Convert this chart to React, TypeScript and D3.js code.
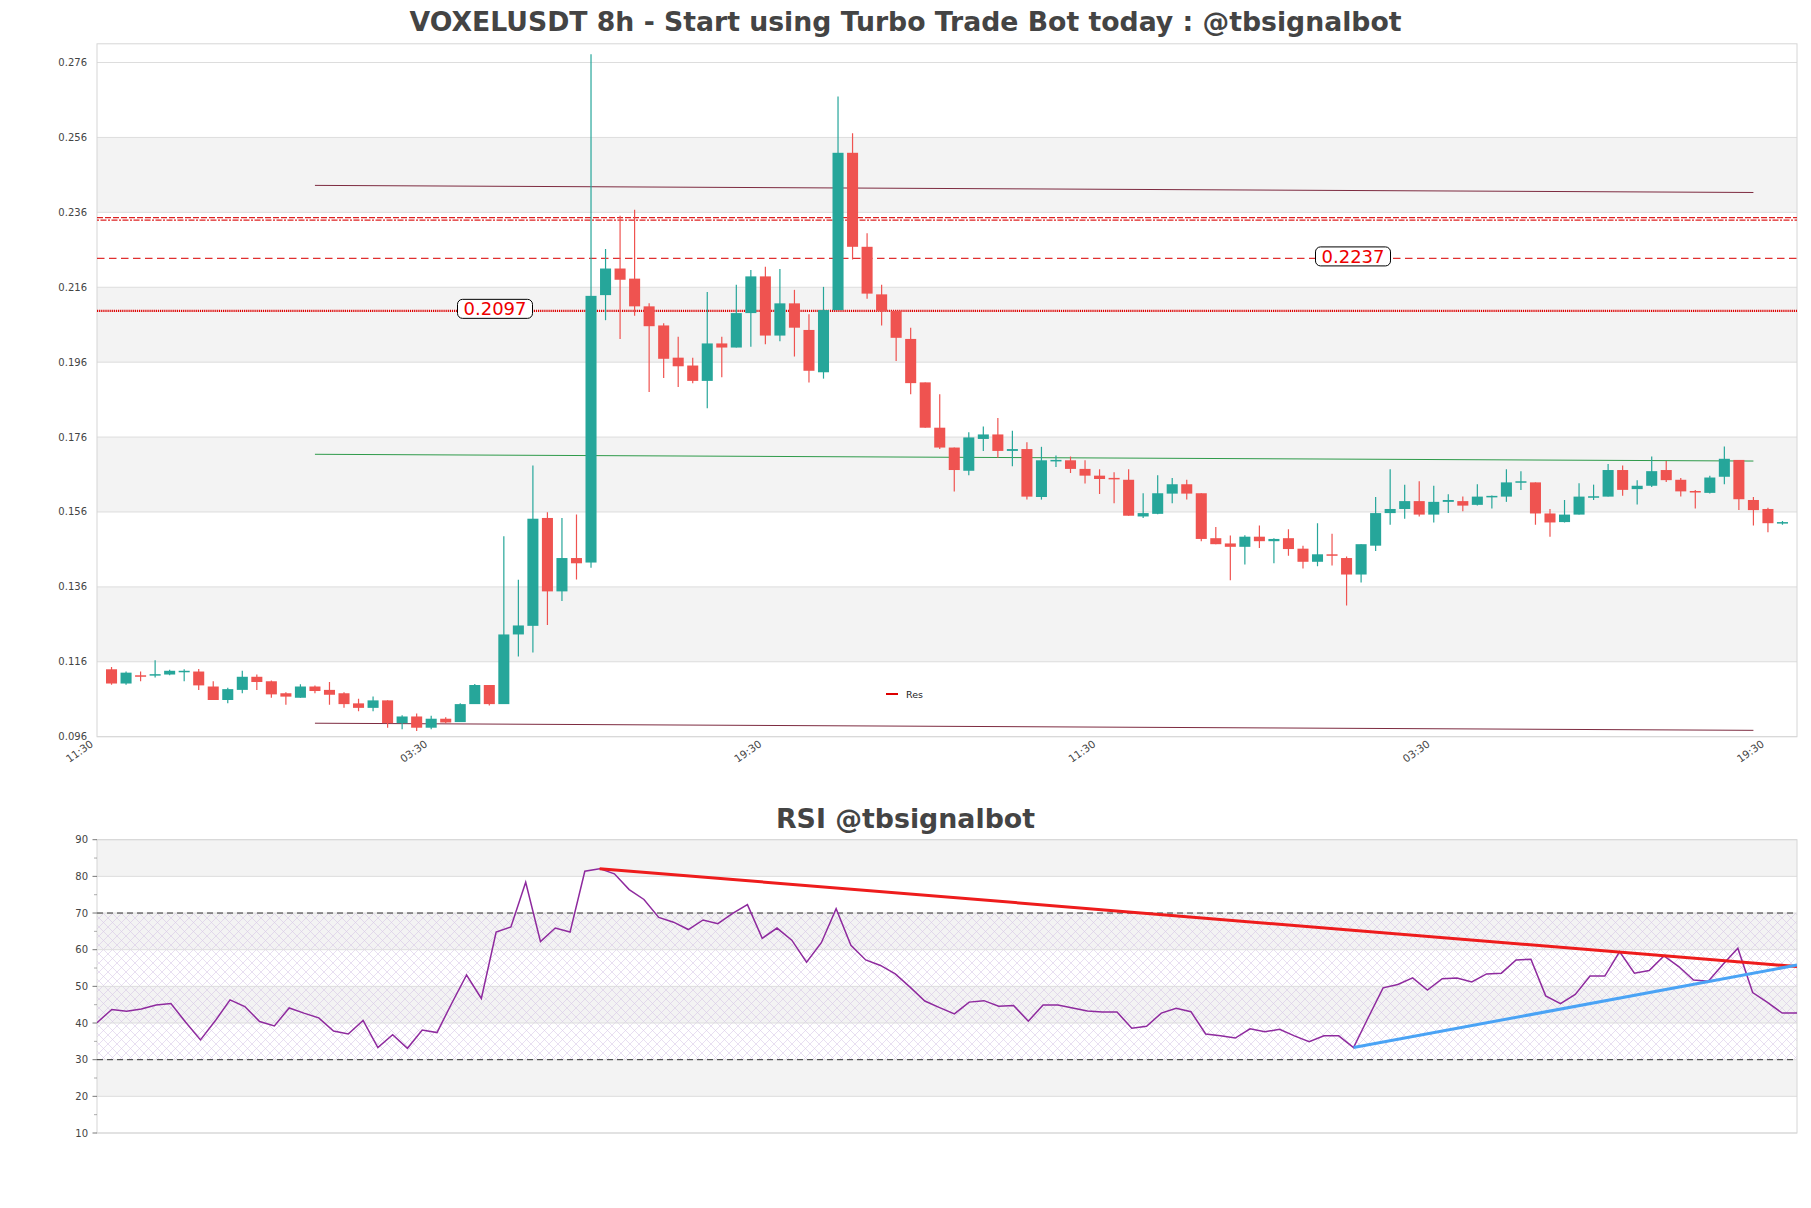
import React from 'react';
import * as d3 from 'd3';

const opens = [0.1140,0.1102,0.1124,0.1125,0.1126,0.1135,0.1134,0.1094,0.1058,0.1085,0.1120,0.1108,0.1076,0.1064,0.1094,0.1085,0.1076,0.1049,0.1037,0.1057,
0.0996,0.1014,0.0984,0.1008,0.0999,0.1047,0.1098,0.1047,0.1233,0.1256,0.1544,0.1348,0.1437,0.1425,0.2139,0.2210,0.2183,0.2109,0.2058,0.1972,
0.1951,0.1910,0.2010,0.1999,0.2091,0.2189,0.2031,0.2117,0.2046,0.1933,0.2099,0.2519,0.2268,0.2141,0.2097,0.2022,0.1906,0.1785,0.1732,0.1670,
0.1755,0.1767,0.1723,0.1728,0.1600,0.1697,0.1698,0.1675,0.1657,0.1651,0.1646,0.1548,0.1555,0.1609,0.1634,0.1610,0.1490,0.1476,0.1467,0.1494,
0.1482,0.1490,0.1462,0.1427,0.1447,0.1437,0.1393,0.1470,0.1557,0.1568,0.1589,0.1553,0.1587,0.1589,0.1579,0.1601,0.1601,0.1639,0.1639,0.1556,
0.1533,0.1553,0.1600,0.1601,0.1672,0.1621,0.1630,0.1672,0.1646,0.1616,0.1611,0.1654,0.1699,0.1592,0.1568,0.1531];
const highs = [0.1146,0.1134,0.1134,0.1164,0.1139,0.1140,0.1141,0.1108,0.1091,0.1136,0.1126,0.1110,0.1079,0.1100,0.1097,0.1106,0.1079,0.1061,0.1067,0.1057,
0.1017,0.1022,0.1016,0.1012,0.1049,0.1101,0.1098,0.1495,0.1379,0.1684,0.1559,0.1544,0.1553,0.2782,0.2262,0.2351,0.2367,0.2117,0.2064,0.2028,
0.1972,0.2147,0.2028,0.2167,0.2206,0.2215,0.2209,0.2153,0.2088,0.2161,0.2669,0.2571,0.2304,0.2167,0.2097,0.2052,0.1906,0.1874,0.1732,0.1773,
0.1788,0.1811,0.1777,0.1746,0.1734,0.1711,0.1708,0.1698,0.1674,0.1666,0.1674,0.1610,0.1658,0.1651,0.1646,0.1610,0.1520,0.1497,0.1498,0.1524,
0.1490,0.1514,0.1470,0.1530,0.1502,0.1441,0.1474,0.1600,0.1674,0.1633,0.1642,0.1630,0.1607,0.1601,0.1634,0.1604,0.1674,0.1669,0.1639,0.1568,
0.1592,0.1637,0.1633,0.1688,0.1684,0.1645,0.1708,0.1696,0.1651,0.1619,0.1657,0.1735,0.1699,0.1600,0.1571,0.1536];
const lows = [0.1099,0.1099,0.1108,0.1118,0.1124,0.1108,0.1085,0.1058,0.1049,0.1076,0.1085,0.1064,0.1045,0.1064,0.1076,0.1045,0.1037,0.1028,0.1028,0.0984,
0.0980,0.0975,0.0980,0.0996,0.0999,0.1047,0.1043,0.1047,0.1174,0.1185,0.1258,0.1322,0.1380,0.1411,0.2072,0.2022,0.2084,0.1880,0.1918,0.1894,
0.1904,0.1837,0.1920,0.1999,0.2001,0.2008,0.2016,0.1975,0.1906,0.1916,0.2099,0.2234,0.2129,0.2058,0.1963,0.1874,0.1785,0.1728,0.1615,0.1658,
0.1723,0.1705,0.1682,0.1593,0.1593,0.1680,0.1664,0.1636,0.1608,0.1583,0.1550,0.1544,0.1554,0.1583,0.1593,0.1482,0.1474,0.1378,0.1420,0.1464,
0.1423,0.1443,0.1409,0.1415,0.1417,0.1310,0.1372,0.1456,0.1526,0.1542,0.1548,0.1532,0.1557,0.1562,0.1577,0.1569,0.1587,0.1619,0.1526,0.1494,
0.1532,0.1553,0.1592,0.1601,0.1603,0.1580,0.1627,0.1640,0.1601,0.1569,0.1609,0.1634,0.1565,0.1524,0.1506,0.1526];
const closes = [0.1102,0.1131,0.1122,0.1127,0.1136,0.1136,0.1097,0.1058,0.1087,0.1120,0.1106,0.1073,0.1067,0.1094,0.1082,0.1072,0.1047,0.1037,0.1057,0.0996,
0.1014,0.0984,0.1008,0.0998,0.1047,0.1098,0.1047,0.1233,0.1257,0.1542,0.1348,0.1437,0.1423,0.2137,0.2210,0.2180,0.2109,0.2056,0.1969,0.1949,
0.1910,0.2010,0.1999,0.2091,0.2189,0.2031,0.2117,0.2052,0.1937,0.2099,0.2519,0.2268,0.2143,0.2097,0.2025,0.1904,0.1785,0.1732,0.1672,0.1759,
0.1767,0.1723,0.1728,0.1601,0.1698,0.1699,0.1675,0.1657,0.1648,0.1648,0.1550,0.1557,0.1610,0.1634,0.1609,0.1488,0.1474,0.1467,0.1494,0.1482,
0.1488,0.1461,0.1427,0.1447,0.1445,0.1393,0.1474,0.1557,0.1568,0.1589,0.1553,0.1587,0.1592,0.1577,0.1601,0.1603,0.1639,0.1642,0.1556,0.1532,
0.1553,0.1601,0.1602,0.1672,0.1619,0.1630,0.1669,0.1645,0.1615,0.1614,0.1652,0.1702,0.1594,0.1565,0.1530,0.1533];

const rsiValues = [40.1,43.7,43.2,43.8,44.9,45.3,40.2,35.4,40.6,46.3,
44.5,40.4,39.2,44.1,42.7,41.4,37.8,37.0,40.7,33.3,
36.8,33.1,38.1,37.4,45.4,53.1,46.7,64.8,66.2,78.4,
62.2,65.9,64.8,81.4,82.1,80.7,76.4,73.7,68.8,67.5,
65.5,68.1,67.1,69.9,72.3,63.1,65.9,62.6,56.6,61.9,
71.2,61.2,57.2,55.7,53.4,49.8,46.0,44.2,42.5,45.7,
46.1,44.6,44.8,40.5,44.9,44.9,44.1,43.3,43.0,43.0,
38.6,39.1,42.7,44.0,43.1,37.0,36.5,35.9,38.4,37.6,
38.3,36.5,34.9,36.5,36.5,33.3,41.5,49.6,50.5,52.3,
49.0,52.1,52.3,51.2,53.4,53.6,57.2,57.4,47.4,45.3,
47.8,52.8,52.8,59.5,53.6,54.3,58.3,55.4,51.7,51.4,
56.0,60.4,48.3,45.6,42.7,42.7];

const xTickIndex = [-1, 22, 45, 68, 91, 114];
const xTickLabels = ['11:30', '03:30', '19:30', '11:30', '03:30', '19:30'];
const priceTicks = [0.096, 0.116, 0.136, 0.156, 0.176, 0.196, 0.216, 0.236, 0.256, 0.276];
const rsiTicks = [10, 20, 30, 40, 50, 60, 70, 80, 90];
const rsiMinorTicks = [15, 25, 35, 45, 55, 65, 75, 85];

// channel lines [index, price]
const channelTop = [[14, 0.2432], [113, 0.2413]];
const channelMid = [[14, 0.1714], [113, 0.1696]];
const channelBottom = [[14, 0.0996], [113, 0.0977]];
const supportLevel = 0.2097;
const resistLevel = 0.2237;
const resistUpper = [0.2346, 0.2339];
// RSI trendlines [index, rsi]
const rsiDownTrend = [[34, 82.1], [115, 55.4]];
const rsiUpTrend = [[85, 33.3], [115, 55.8]];

const FONT = 'DejaVu Sans, Verdana, sans-serif';
const GREEN = '#26a69a';
const RED = '#ef5350';

export default function App() {
  const W = 1811, H = 1208;
  const mL = 97, mR = 1797, mT = 43.8, mB = 736.7;
  const rT = 839.7, rB = 1133;
  const x = d3.scaleLinear().domain([-1, 116]).range([mL, mR]);
  const y = d3.scaleLinear().domain([0.096, 0.281]).range([mB, mT]);
  const xr = d3.scaleLinear().domain([0, 115]).range([mL, mR]);
  const yr = d3.scaleLinear().domain([10, 90]).range([rB, rT]);
  const step = x(1) - x(0);
  const bw = step * 0.76;

  const rsiLine = d3.line<number>().x((_, i) => xr(i)).y((d) => yr(d))(rsiValues) || '';
  const seg = (pts: number[][], sx: any, sy: any) => d3.line<number[]>().x((d) => sx(d[0])).y((d) => sy(d[1]))(pts) || '';

  const bandPairs: number[][] = [];
  for (let k = 1; k < priceTicks.length - 1; k += 2) bandPairs.push([priceTicks[k], priceTicks[k + 1]]);
  const rsiBands = [[20, 30], [40, 50], [60, 70], [80, 90]];

  const labelBox = (cx: number, val: number, text: string) => {
    const cy = y(val) - 2;
    return (
      <g key={text}>
        <rect x={cx - 37.5} y={cy - 9.5} width={75} height={19} rx={5} ry={5} fill="#ffffff" stroke="#000" strokeWidth={1} />
        <text x={cx} y={cy + 6.5} textAnchor="middle" fontFamily={FONT} fontSize={18} fill="#ee0000">{text}</text>
      </g>
    );
  };

  return (
    <svg width={W} height={H} style={{ position: 'absolute', left: 0, top: 0, background: '#fff' }} xmlns="http://www.w3.org/2000/svg">
      <defs>
        <clipPath id="mainClip"><rect x={mL} y={mT} width={mR - mL} height={mB - mT} /></clipPath>
        <clipPath id="rsiClip"><rect x={mL} y={rT} width={mR - mL} height={rB - rT} /></clipPath>
        <pattern id="hatch" width={9} height={9} patternUnits="userSpaceOnUse">
          <path d="M0,0 L9,9 M9,0 L0,9" stroke="#d2bfe2" strokeWidth={0.6} opacity={0.85} />
        </pattern>
      </defs>
      <rect x={0} y={0} width={W} height={H} fill="#fff" />

      <text x={905.5} y={31} textAnchor="middle" fontFamily={FONT} fontWeight="bold" fontSize={26.7} fill="#444">
        VOXELUSDT 8h - Start using Turbo Trade Bot today : @tbsignalbot
      </text>

      {/* main plot background */}
      {bandPairs.map((b, i) => (
        <rect key={'b' + i} x={mL} y={y(b[1])} width={mR - mL} height={y(b[0]) - y(b[1])} fill="#f3f3f3" />
      ))}
      {priceTicks.map((t) => (
        <line key={'g' + t} x1={mL} x2={mR} y1={y(t)} y2={y(t)} stroke="#dddddd" strokeWidth={1} />
      ))}
      <rect x={mL} y={mT} width={mR - mL} height={mB - mT} fill="none" stroke="#d6d6d6" strokeWidth={1} />

      {priceTicks.map((t) => (
        <text key={'yl' + t} x={87} y={y(t) + 3.5} textAnchor="end" fontFamily={FONT} fontSize={10} fill="#444">{t.toFixed(3)}</text>
      ))}
      {xTickIndex.map((ti, k) => (
        <text key={'xl' + k} transform={`translate(${x(ti) - 3},${mB + 9}) rotate(-35)`} textAnchor="end" fontFamily={FONT} fontSize={10.5} fill="#444">{xTickLabels[k]}</text>
      ))}

      <g clipPath="url(#mainClip)">
        {/* horizontal levels */}
        <line x1={mL} x2={mR} y1={y(resistUpper[0])} y2={y(resistUpper[0])} stroke="#dd2222" strokeWidth={1.2} strokeDasharray="6,2" />
        <line x1={mL} x2={mR} y1={y(resistUpper[1])} y2={y(resistUpper[1])} stroke="#dd2222" strokeWidth={1.2} strokeDasharray="2,1.5,6,1.5" />
        <line x1={mL} x2={mR} y1={y(resistLevel)} y2={y(resistLevel)} stroke="#e03030" strokeWidth={1.3} strokeDasharray="7.5,4.5" />
        <line x1={mL} x2={mR} y1={y(supportLevel)} y2={y(supportLevel)} stroke="#dd0000" strokeWidth={2.2} strokeDasharray="1.2,0.9" />

        {/* channel lines */}
        <path d={seg(channelTop, x, y)} stroke="#7d2b40" strokeWidth={1} fill="none" />
        <path d={seg(channelMid, x, y)} stroke="#2e9a4a" strokeWidth={1} fill="none" />
        <path d={seg(channelBottom, x, y)} stroke="#7d2b40" strokeWidth={1} fill="none" />

        {/* candles */}
        {opens.map((o, i) => {
          const c = closes[i];
          const up = c >= o;
          const col = up ? GREEN : RED;
          const yt = y(Math.max(o, c));
          const yb = y(Math.min(o, c));
          const hgt = Math.max(yb - yt, 1.5);
          return (
            <g key={'c' + i}>
              <line x1={x(i)} x2={x(i)} y1={y(highs[i])} y2={y(lows[i])} stroke={col} strokeWidth={1.2} />
              <rect x={x(i) - bw / 2} y={yt} width={bw} height={hgt} fill={col} />
            </g>
          );
        })}
      </g>

      {labelBox(495, supportLevel, '0.2097')}
      {labelBox(1353, resistLevel, '0.2237')}

      {/* legend */}
      <line x1={886} x2={898} y1={694} y2={694} stroke="#dd0000" strokeWidth={2} />
      <text x={906} y={697.5} fontFamily={FONT} fontSize={9.5} fill="#222">Res</text>

      {/* RSI */}
      <text x={905.5} y={828} textAnchor="middle" fontFamily={FONT} fontWeight="bold" fontSize={26.8} fill="#444">RSI @tbsignalbot</text>
      {rsiBands.map((b, i) => (
        <rect key={'rb' + i} x={mL} y={yr(b[1])} width={mR - mL} height={yr(b[0]) - yr(b[1])} fill="#f3f3f3" />
      ))}
      <rect x={mL} y={yr(70)} width={mR - mL} height={yr(30) - yr(70)} fill="url(#hatch)" />
      {rsiTicks.map((t) => (
        <line key={'rg' + t} x1={mL} x2={mR} y1={yr(t)} y2={yr(t)} stroke="#dddddd" strokeWidth={1} />
      ))}
      <rect x={mL} y={rT} width={mR - mL} height={rB - rT} fill="none" stroke="#d6d6d6" strokeWidth={1} />
      {rsiTicks.map((t) => (
        <g key={'rt' + t}>
          <line x1={mL - 4.5} x2={mL} y1={yr(t)} y2={yr(t)} stroke="#555" strokeWidth={0.8} />
          <text x={88} y={yr(t) + 3.5} textAnchor="end" fontFamily={FONT} fontSize={10} fill="#444">{t}</text>
        </g>
      ))}
      {rsiMinorTicks.map((t) => (
        <line key={'rm' + t} x1={mL - 3} x2={mL} y1={yr(t)} y2={yr(t)} stroke="#777" strokeWidth={0.6} />
      ))}
      <line x1={mL} x2={mR} y1={yr(70)} y2={yr(70)} stroke="#333" strokeWidth={1} strokeDasharray="6,4" />
      <line x1={mL} x2={mR} y1={yr(30)} y2={yr(30)} stroke="#333" strokeWidth={1} strokeDasharray="6,4" />
      <g clipPath="url(#rsiClip)">
        <path d={rsiLine} stroke="#8e2a9e" strokeWidth={1.5} fill="none" />
        <path d={seg(rsiDownTrend, xr, yr)} stroke="#ee1c1c" strokeWidth={3} fill="none" />
        <path d={seg(rsiUpTrend, xr, yr)} stroke="#4aa3f5" strokeWidth={3} fill="none" />
      </g>
    </svg>
  );
}
